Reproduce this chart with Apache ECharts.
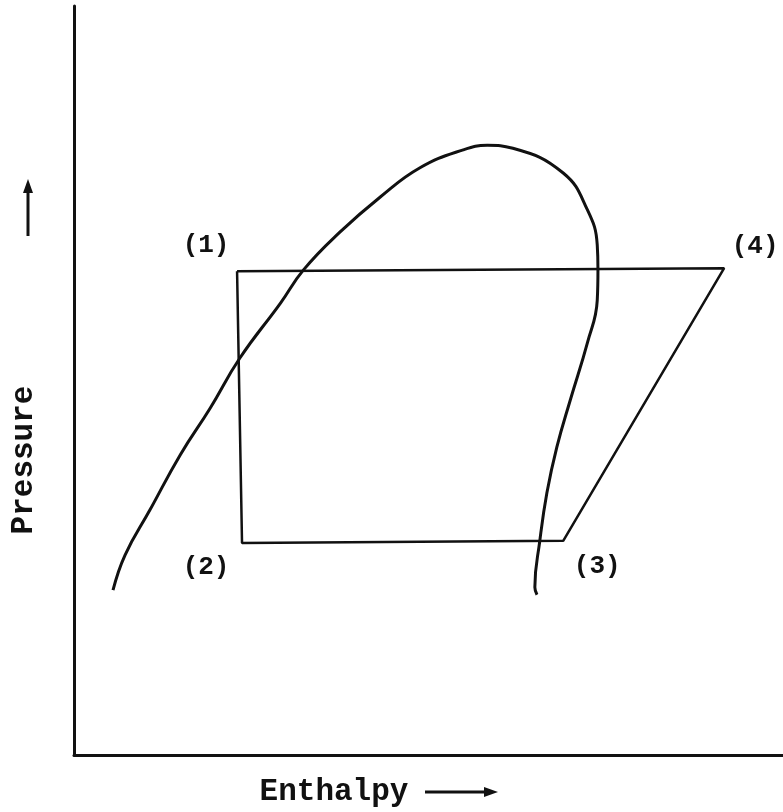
<!DOCTYPE html>
<html>
<head>
<meta charset="utf-8">
<script src="https://cdn.jsdelivr.net/npm/echarts@6/dist/echarts.min.js"></script>
<style>
  html, body { margin: 0; padding: 0; background: #fff; }
  #chart { width: 783px; height: 812px; }
</style>
</head>
<body>
<div id="chart"></div>
<script>
// enthalpy / pressure in arbitrary 0-100 units (no scale on the sketch)
const cycleLabels = ["(1)", "(4)", "(3)", "(2)"];
const cycleEnthalpy = [23.0, 91.7, 69.0, 23.7];
const cyclePressure = [64.6, 65.0, 28.6, 28.3];

// saturation dome, traced left leg -> peak -> right leg
const domeEnthalpy = [5.5, 7.2, 10.7, 15.0, 19.2, 23.4, 29.1, 32.4, 37.5, 43.2, 48.8, 54.9, 58.3, 61.9, 69.0, 72.4, 73.8, 73.9, 73.8, 72.4, 70.0, 68.1, 66.7, 65.7, 65.0, 65.3];
const domePressure = [22.0, 26.7, 32.7, 40.1, 46.3, 53.0, 60.3, 64.8, 69.8, 74.5, 78.4, 80.8, 81.4, 81.0, 77.7, 72.8, 68.1, 64.8, 60.7, 55.0, 47.4, 41.1, 35.0, 28.6, 22.4, 21.4];

const ink = "#111";
const monoFont = "Liberation Mono";

const chart = echarts.init(document.getElementById("chart"));

const cycleData = cycleEnthalpy.map((h, i) => [h, cyclePressure[i]]);
cycleData.push(cycleData[0]); // close the loop
const domeData = domeEnthalpy.map((h, i) => [h, domePressure[i]]);

// label offsets around each state point
const labelOffsets = [[-31, -26], [31, -22], [34, 26], [-36, 24]];

const option = {
  animation: false,
  backgroundColor: "#fff",
  grid: { left: 74, right: 0, top: 6, bottom: 57 },
  xAxis: {
    type: "value",
    min: 0,
    max: 100,
    axisLine: { show: true, onZero: false, lineStyle: { color: ink, width: 3 } },
    axisTick: { show: false },
    axisLabel: { show: false },
    splitLine: { show: false }
  },
  yAxis: {
    type: "value",
    min: 0,
    max: 100,
    axisLine: { show: true, onZero: false, lineStyle: { color: ink, width: 3 } },
    axisTick: { show: false },
    axisLabel: { show: false },
    splitLine: { show: false }
  },
  series: [
    {
      name: "dome",
      type: "line",
      data: domeData,
      smooth: 0.45,
      symbol: "none",
      lineStyle: { color: ink, width: 3 }
    },
    {
      name: "cycle",
      type: "line",
      data: cycleData,
      smooth: false,
      symbol: "none",
      lineStyle: { color: ink, width: 2.5 }
    },
    {
      name: "states",
      type: "scatter",
      symbolSize: 0,
      itemStyle: { color: ink, opacity: 1 },
      data: cycleLabels.map((lab, i) => ({
        value: [cycleEnthalpy[i], cyclePressure[i]],
        label: {
          show: true,
          formatter: lab,
          position: "inside",
          offset: labelOffsets[i],
          color: ink,
          textBorderWidth: 0,
          fontFamily: monoFont,
          fontWeight: "bold",
          fontSize: 26
        }
      }))
    }
  ],
  graphic: [
    {
      type: "text",
      x: 24,
      y: 460,
      rotation: Math.PI / 2,
      style: {
        text: "Pressure",
        fill: ink,
        font: "bold 31px 'Liberation Mono'",
        align: "center",
        verticalAlign: "middle"
      }
    },
    {
      type: "line",
      shape: { x1: 28, y1: 236, x2: 28, y2: 190 },
      style: { stroke: ink, lineWidth: 3 }
    },
    {
      type: "polygon",
      shape: { points: [[28, 179], [23, 193], [33, 193]] },
      style: { fill: ink }
    },
    {
      type: "text",
      x: 334,
      y: 792,
      style: {
        text: "Enthalpy",
        fill: ink,
        font: "bold 31px 'Liberation Mono'",
        align: "center",
        verticalAlign: "middle"
      }
    },
    {
      type: "line",
      shape: { x1: 425, y1: 792, x2: 486, y2: 792 },
      style: { stroke: ink, lineWidth: 3 }
    },
    {
      type: "polygon",
      shape: { points: [[498, 792], [484, 787], [484, 797]] },
      style: { fill: ink }
    }
  ]
};

chart.setOption(option);
</script>
</body>
</html>
